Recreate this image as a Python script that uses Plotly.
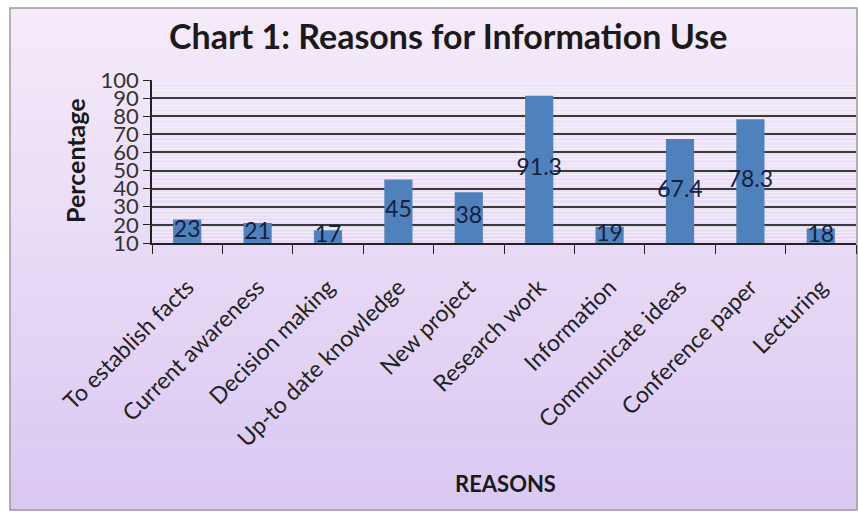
import plotly.graph_objects as go

categories = ["To establish facts", "Current awareness", "Decision making",
              "Up-to date knowledge", "New project", "Research work",
              "Information", "Communicate ideas", "Conference paper", "Lecturing"]
values = [23, 21, 17, 45, 38, 91.3, 19, 67.4, 78.3, 18]
value_labels = ["23", "21", "17", "45", "38", "91.3", "19", "67.4", "78.3", "18"]
y_ticks = [10, 20, 30, 40, 50, 60, 70, 80, 90, 100]

W, H = 858, 515
ML, MR, MT, MB = 152, 2, 80, 272
PW = W - ML - MR
PH = H - MT - MB

def px_x(px):
    return (px - ML) / PW

def px_y(py):
    return (H - MB - py) / PH

AXIS_MIN = 10

fig = go.Figure()
fig.add_trace(go.Bar(
    x=categories, y=values, marker=dict(color="#4f81bd", line=dict(width=0)),
    hoverinfo="skip", showlegend=False,
))
fig.add_trace(go.Scatter(
    x=categories, y=[(AXIS_MIN + v) / 2 for v in values], text=value_labels,
    mode="text", textfont=dict(family="Lato", size=23, color="#14213d"),
    hoverinfo="skip", showlegend=False,
))

# background gradient of the chart area
shapes = []
top_c = (245, 235, 250)
bot_c = (218, 200, 242)
x0, x1 = px_x(10), px_x(857)
y_top, y_bot = 8, 510
n = 40
for i in range(n):
    t = i / (n - 1)
    c = tuple(int(round(top_c[k] + (bot_c[k] - top_c[k]) * t)) for k in range(3))
    ya = y_top + (y_bot - y_top) * i / n
    yb = y_top + (y_bot - y_top) * (i + 1) / n + 0.5
    shapes.append(dict(type="rect", xref="paper", yref="paper", layer="below",
                       x0=x0, x1=x1, y0=px_y(ya), y1=px_y(yb),
                       fillcolor="rgb(%d,%d,%d)" % c, line=dict(width=0)))
shapes.append(dict(type="rect", xref="paper", yref="paper", layer="below",
                   x0=x0, x1=x1, y0=px_y(y_top), y1=px_y(y_bot),
                   fillcolor="rgba(0,0,0,0)", line=dict(color="#9a9a9a", width=1.5)))

annotations = [
    dict(text="<b>Chart 1: Reasons for Information Use</b>", xref="paper", yref="paper",
         x=px_x(448), y=px_y(35), showarrow=False, xanchor="center", yanchor="middle",
         font=dict(family="Lato", size=34, color="#1a1a1a")),
    dict(text="<b>Percentage</b>", xref="paper", yref="paper", textangle=-90,
         x=px_x(75), y=px_y(161), showarrow=False, xanchor="center", yanchor="middle",
         font=dict(family="Lato", size=25, color="#1a1a1a")),
    dict(text="<b>REASONS</b>", xref="paper", yref="paper",
         x=px_x(505), y=px_y(483), showarrow=False, xanchor="center", yanchor="middle",
         font=dict(family="Lato", size=22, color="#1a1a1a")),
]

fig.update_layout(
    width=W, height=H,
    margin=dict(l=ML, r=MR, t=MT, b=MB),
    paper_bgcolor="white",
    plot_bgcolor="#d6d6d6",
    bargap=0.6,
    shapes=shapes,
    annotations=annotations,
    xaxis=dict(
        type="category", tickangle=-45, tickson="boundaries",
        ticks="outside", ticklen=9, tickcolor="#222", tickwidth=1,
        showline=True, linecolor="#222", linewidth=1.5,
        showgrid=False, ticklabelstandoff=20,
        tickfont=dict(family="Lato", size=23, color="#222"),
    ),
    yaxis=dict(
        range=[AXIS_MIN, 100], tickvals=y_ticks, ticks="outside", ticklen=7,
        tickcolor="#222", tickwidth=1, showline=True, linecolor="#222", linewidth=1.5,
        showgrid=True, gridcolor="#3a3a3a", gridwidth=2,
        minor=dict(dtick=2, showgrid=True, gridcolor="#f2f2f2", gridwidth=1),
        tickfont=dict(family="Lato", size=22, color="#333"),
        zeroline=False,
    ),
)

fig.write_html("out.html")
